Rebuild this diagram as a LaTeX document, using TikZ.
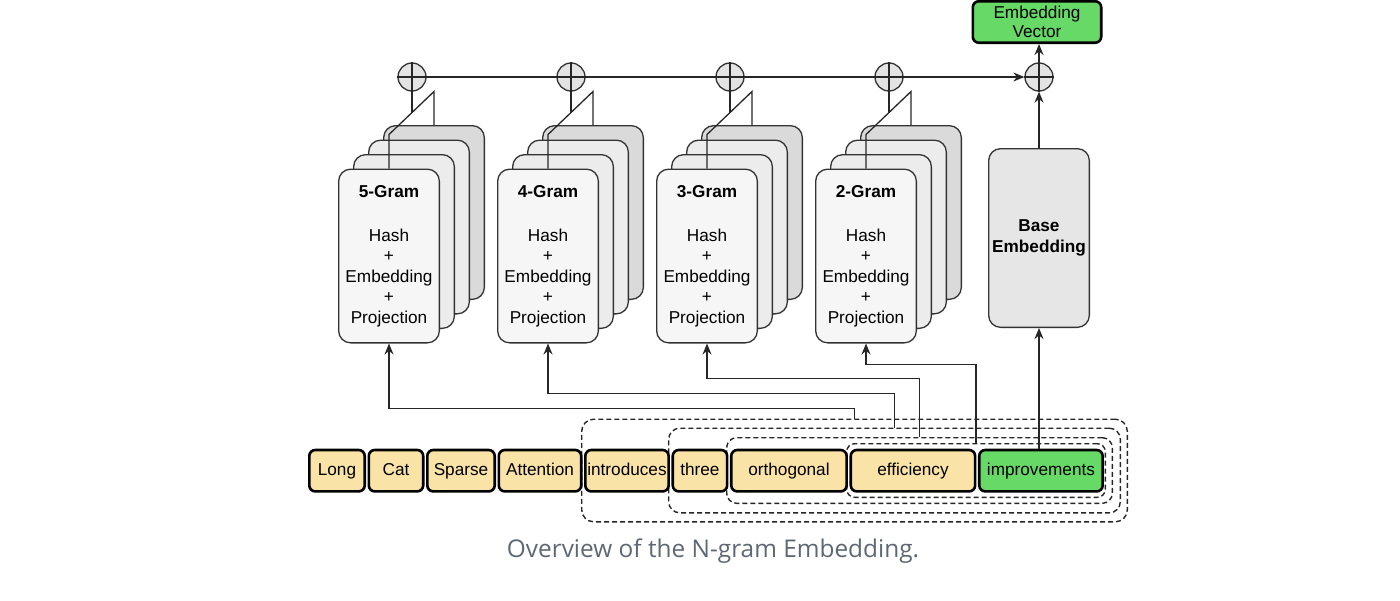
\documentclass[tikz,border=0pt]{standalone}
\usepackage{fontspec}
\setmainfont{Liberation Sans}
\newfontfamily\capfont{Open Sans}
\usetikzlibrary{arrows.meta, positioning}

\definecolor{tokenyellow}{HTML}{FAE3A6}
\definecolor{tokengreen}{HTML}{66D966}
\definecolor{layerfront}{HTML}{F6F6F6}
\definecolor{layermid}{HTML}{ECECEC}
\definecolor{layerback}{HTML}{DADADA}
\definecolor{basegray}{HTML}{E6E6E6}
\definecolor{captiongray}{HTML}{5E6772}

\tikzset{
  gram/.style={rectangle, draw=black!80, line width=1.3pt, rounded corners=12pt,
    minimum width=100.7pt, minimum height=173.7pt, inner sep=0pt, align=center,
    font=\fontsize{17.2}{20.5}\selectfont},
  token/.style={rectangle, draw=black, line width=2.6pt, rounded corners=6pt,
    fill=tokenyellow, minimum height=41.4pt, inner sep=2pt, align=center,
    font=\fontsize{17.2}{20.5}\selectfont},
  word/.style={token, text height=12.5pt, text depth=3.5pt},
  window/.style={rectangle, draw=black!85, line width=1.4pt, dash pattern=on 5pt off 3pt},
  oplus/.style={circle, draw=black!80, line width=1.3pt, fill=black!11,
    minimum size=28pt, inner sep=0pt},
  link/.style={draw=black!85, line width=1.3pt, -{Stealth[length=11pt, width=9pt]}},
  wire/.style={draw=black!85, line width=1.3pt}
}

\begin{document}
\begin{tikzpicture}[x=1pt, y=-1pt, node distance=1.5pt]
  \useasboundingbox (0,0) rectangle (1400,600);

  % n-gram windows
  \node[window, rounded corners=12pt, minimum width=545.6pt, minimum height=102.6pt] (w5) at (854.5,470.5) {};
  \node[window, rounded corners=11pt, minimum width=451.6pt, minimum height=84.6pt] (w4) at (894.5,470.5) {};
  \node[window, rounded corners=10pt, minimum width=385.6pt, minimum height=65.6pt] (w3) at (919.5,470.5) {};
  \node[window, rounded corners=8pt, minimum width=258.6pt, minimum height=53.6pt] (w2) at (976,470.5) {};

  % tokens
  \node[word, minimum width=55.4pt] (long) at (337,470.7) {Long};
  \node[word, minimum width=54.4pt, right=of long] (cat) {Cat};
  \node[word, minimum width=67.4pt, right=of cat] (sparse) {Sparse};
  \node[word, minimum width=82.4pt, right=of sparse] (attn) {Attention};
  \node[word, minimum width=82.4pt, right=of attn] (intro) {introduces};
  \node[word, minimum width=54.4pt, right=of intro] (three) {three};
  \node[word, minimum width=115.4pt, right=of three] (ortho) {orthogonal};
  \node[word, minimum width=124.4pt, right=of ortho] (effic) {efficiency};
  \node[word, minimum width=123.4pt, fill=tokengreen, right=of effic] (impr) {improvements};

  % 5-gram
  \node[gram, fill=layerback] (g5c) at (434,212.5) {};
  \node[gram, fill=layermid] (g5b) at (419,227) {};
  \node[gram, fill=layermid] (g5a) at (404,241.5) {};
  \node[gram, fill=layerfront] (g5) at (389,256) {\textbf{5-Gram}\\[23.5pt]Hash\\+\\Embedding\\+\\Projection};
  % 4-gram
  \node[gram, fill=layerback] (g4c) at (593,212.5) {};
  \node[gram, fill=layermid] (g4b) at (578,227) {};
  \node[gram, fill=layermid] (g4a) at (563,241.5) {};
  \node[gram, fill=layerfront] (g4) at (548,256) {\textbf{4-Gram}\\[23.5pt]Hash\\+\\Embedding\\+\\Projection};
  % 3-gram
  \node[gram, fill=layerback] (g3c) at (752,212.5) {};
  \node[gram, fill=layermid] (g3b) at (737,227) {};
  \node[gram, fill=layermid] (g3a) at (722,241.5) {};
  \node[gram, fill=layerfront] (g3) at (707,256) {\textbf{3-Gram}\\[23.5pt]Hash\\+\\Embedding\\+\\Projection};
  % 2-gram
  \node[gram, fill=layerback] (g2c) at (911,212.5) {};
  \node[gram, fill=layermid] (g2b) at (896,227) {};
  \node[gram, fill=layermid] (g2a) at (881,241.5) {};
  \node[gram, fill=layerfront] (g2) at (866,256) {\textbf{2-Gram}\\[23.5pt]Hash\\+\\Embedding\\+\\Projection};

  \node[gram, fill=basegray, minimum height=178.7pt] (base) at (1039,238) {\textbf{Base}\\\textbf{Embedding}};

  % sums
  \node[oplus] (o5) at (412,77) {};
  \node[oplus] (o4) at (571,77) {};
  \node[oplus] (o3) at (730,77) {};
  \node[oplus] (o2) at (889,77) {};
  \node[oplus] (sum) at (1039,77) {};
  \node[token, fill=tokengreen, minimum width=128.4pt] (ev) at (1037,22) {Embedding\\[-1pt]Vector};
  \node[font=\capfont\fontsize{24.4}{28}\selectfont, text=captiongray] (caption) at (713,551) {Overview of the N-gram Embedding.};

  \draw[wire] (o5.north) -- (o5.south) (o4.north) -- (o4.south) (o3.north) -- (o3.south)
    (o2.north) -- (o2.south) (sum.north) -- (sum.south) (sum.west) -- (sum.east);
  \draw[link] (o5.west) -- (sum.west);

  \draw[wire] (g5.north) -- ++(0,-34) -- ++(45,-43) -- (g5c.north);
  \draw[wire] (g4.north) -- ++(0,-34) -- ++(45,-43) -- (g4c.north);
  \draw[wire] (g3.north) -- ++(0,-34) -- ++(45,-43) -- (g3c.north);
  \draw[wire] (g2.north) -- ++(0,-34) -- ++(45,-43) -- (g2c.north);
  \draw[wire] (o5.south) -- ++(0,21.5);
  \draw[wire] (o4.south) -- ++(0,21.5);
  \draw[wire] (o3.south) -- ++(0,21.5);
  \draw[wire] (o2.south) -- ++(0,21.5);

  \draw[link] (w5.north) |- ([yshift=-65pt]g5.south) -- (g5.south);
  \draw[link] (w4.north) |- ([yshift=-50pt]g4.south) -- (g4.south);
  \draw[link] (w3.north) |- ([yshift=-35pt]g3.south) -- (g3.south);
  \draw[link] (w2.north) |- ([yshift=-21pt]g2.south) -- (g2.south);
  \draw[link] (impr.north -| base.south) -- (base.south);
  \draw[link] (base.north) -- (sum.south);
  \draw[link] (sum.north) -- (sum.north |- ev.south);
\end{tikzpicture}
\end{document}
